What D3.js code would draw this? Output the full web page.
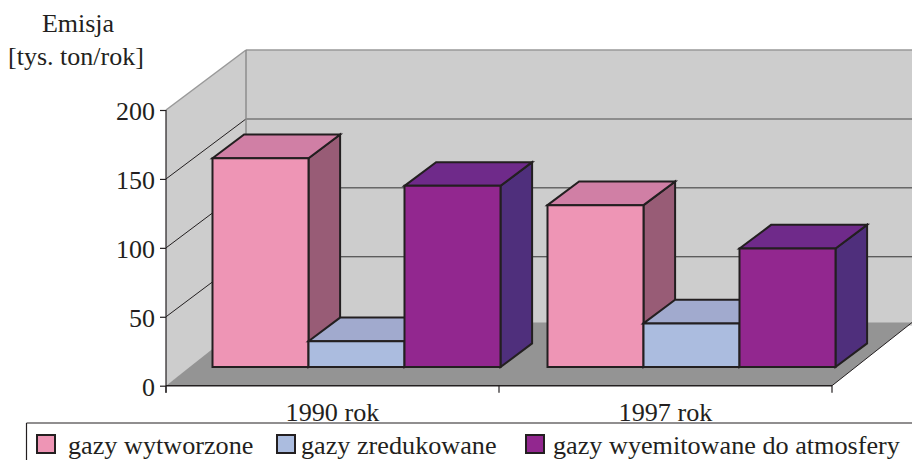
<!DOCTYPE html>
<meta charset="utf-8">
<style>
    html, body { margin: 0; background: #fff; }
    svg { display: block; }
    text { font-family: "Liberation Serif", serif; fill: #231f20; }
</style>
<svg width="912" height="460"></svg>
<script src="https://d3js.org/d3.v7.min.js"></script>
<script>

    var categories = ["1990 rok", "1997 rok"];
    var seriesNames = ["gazy wytworzone", "gazy zredukowane", "gazy wyemitowane do atmosfery"];
    var wytworzone = [151.5, 117.5];
    var zredukowane = [18.7, 31.7];
    var wyemitowane = [131.5, 86];
    var yTicks = [0, 50, 100, 150, 200];

    var frontColors = ["#ee95b5", "#abbcdf", "#92278f"];
    var topColors = ["#d07fa5", "#a1aace", "#6f2a8a"];
    var sideColors = ["#985c76", "#7d86ab", "#4f2f7c"];

    var series = [wytworzone, zredukowane, wyemitowane];
    var dark = "#231f20";

    var svg = d3.select("svg");

    var x0 = d3.scaleBand().domain(categories).range([166, 832]);
    // bar groups sit a little off the tick spacing in the original
    var xBars = d3.scaleBand().domain(categories).range([187.7, 857.7]);
    var x1 = d3.scaleBand().domain(d3.range(series.length)).range([0, 288]);
    var y = d3.scaleLinear().domain([0, 200]).range([385.7, 110]);

    // depth 0 = front plane, depth 1 = back wall
    var depthX = 80, depthY = -60;
    var barFront = 0.31, barBack = 0.705;
    var floorLift = 2.3;

    function pt(px, v, depth) {
        return [px + depth * depthX, y(v) + depth * depthY];
    }

    var poly = d3.line();

    function face(points, fill, stroke, width) {
        svg.append("path")
            .attr("d", poly(points) + "Z")
            .attr("fill", fill)
            .attr("stroke", stroke)
            .attr("stroke-width", width)
            .attr("stroke-linejoin", "miter");
    }

    function seg(a, b, stroke, width) {
        svg.append("path")
            .attr("d", poly([a, b]))
            .attr("fill", "none")
            .attr("stroke", stroke)
            .attr("stroke-width", width);
    }

    var xMin = x0.range()[0], xMax = x0.range()[1];

    // walls
    face([pt(xMin, 0, 0), pt(xMin, 200, 0), pt(xMin, 200, 1), pt(xMin, 0, 1)], "#cdcdcd", "none", 0);
    face([pt(xMin, 0, 1), pt(xMin, 200, 1), pt(xMax, 200, 1), pt(xMax, 0, 1)], "#cdcdcd", "none", 0);

    // gridlines on both walls
    yTicks.forEach(function (t) {
        if (t === 0) return;
        seg(pt(xMin, t, 0), pt(xMin, t, 1), t === 200 ? "#999" : dark, t === 200 ? 1.5 : 1);
        var c = t === 200 ? "#999" : t === 150 ? "#777" : "#333";
        seg(pt(xMin, t, 1), pt(xMax, t, 1), c, t === 100 || t === 50 ? 1 : 1.5);
    });
    seg(pt(xMin, 200, 1), pt(xMin, 0, 1), "#8c8c8c", 1.5);

    // floor
    face([pt(xMin, 0, 0), pt(xMin, floorLift, 1), pt(xMax, floorLift, 1), pt(xMax, 0, 0)], "#949494", "none", 0);
    seg(pt(xMin, 0, 0), pt(xMax, 0, 0), dark, 1.5);
    seg(pt(xMax, 0, 0), pt(xMax, floorLift, 1), dark, 1);

    // bars, back to front within each group
    categories.forEach(function (cat, i) {
        series.forEach(function (values, s) {
            var left = xBars(cat) + x1(s), right = left + x1.bandwidth(), v = values[i];
            face([pt(right, 0, barFront), pt(right, v, barFront), pt(right, v, barBack), pt(right, 0, barBack)], sideColors[s], dark, 2);
            face([pt(left, v, barFront), pt(left, v, barBack), pt(right, v, barBack), pt(right, v, barFront)], topColors[s], dark, 2);
            face([pt(left, 0, barFront), pt(left, v, barFront), pt(right, v, barFront), pt(right, 0, barFront)], frontColors[s], dark, 2);
        });
    });

    // axes
    var yAxis = d3.axisLeft(y).tickValues(yTicks).tickSize(6).tickPadding(5);
    var yG = svg.append("g").attr("transform", "translate(" + xMin + ",0)").call(yAxis);
    yG.select(".domain").remove();
    yG.selectAll("line").attr("stroke", dark).attr("stroke-width", 1.2);
    yG.selectAll("text").attr("font-size", 26).attr("font-family", "Liberation Serif").attr("fill", dark).attr("y", 1);
    seg([xMin, y(200)], [xMin, y(0) + 7], dark, 1.2);

    var xG = svg.append("g").attr("transform", "translate(0," + y(0) + ")")
        .call(d3.axisBottom(x0).tickSize(0).tickPadding(17));
    xG.select(".domain").remove();
    xG.selectAll("text").attr("font-size", 26.2).attr("font-family", "Liberation Serif").attr("fill", dark);
    x0.domain().concat(["end"]).forEach(function (c) {
        var px = c === "end" ? xMax : x0(c);
        seg([px, y(0)], [px, y(0) + 7], dark, 1.2);
    });

    // axis title
    svg.append("text").attr("x", 78).attr("y", 32).attr("text-anchor", "middle").attr("font-size", 26).text("Emisja");
    svg.append("text").attr("x", 76).attr("y", 65).attr("text-anchor", "middle").attr("font-size", 26).text("[tys. ton/rok]");

    // legend, open at the right and bottom like the clipped original
    seg([912, 423], [26.5, 423], dark, 1.2);
    seg([26.5, 423], [26.5, 460], dark, 1.2);

    var legendSwatch = [37, 277, 526];
    var legendText = [68, 301, 553];
    seriesNames.forEach(function (name, s) {
        svg.append("rect")
            .attr("x", legendSwatch[s]).attr("y", 435)
            .attr("width", 18).attr("height", 18)
            .attr("fill", frontColors[s])
            .attr("stroke", dark).attr("stroke-width", 2);
        svg.append("text")
            .attr("x", legendText[s]).attr("y", 454)
            .attr("font-size", 26.2)
            .text(name);
    });

</script>
